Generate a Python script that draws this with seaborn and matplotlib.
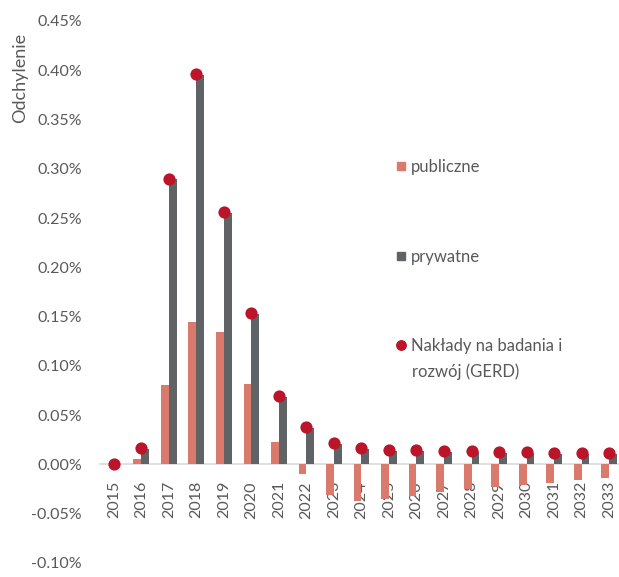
import numpy as np
import pandas as pd
import matplotlib
matplotlib.use("Agg")
import matplotlib.pyplot as plt
from matplotlib.lines import Line2D
from matplotlib.legend import Legend
import seaborn as sns

years = [str(y) for y in range(2015, 2034)]
public = [0.000, 0.006, 0.081, 0.145, 0.134, 0.082, 0.023, -0.010, -0.031, -0.037,
          -0.035, -0.032, -0.028, -0.025, -0.023, -0.021, -0.019, -0.016, -0.014]
private = [0.000, 0.016, 0.290, 0.395, 0.255, 0.153, 0.068, 0.037, 0.021, 0.016,
           0.014, 0.014, 0.013, 0.013, 0.012, 0.012, 0.011, 0.011, 0.011]
gerd = [0.000, 0.017, 0.290, 0.396, 0.256, 0.154, 0.069, 0.038, 0.022, 0.017,
        0.015, 0.015, 0.014, 0.014, 0.013, 0.013, 0.012, 0.012, 0.012]
series_names = ["publiczne", "prywatne"]
gerd_label = ["Nakłady na badania i", "rozwój (GERD)"]
y_ticks = [-0.10, -0.05, 0.00, 0.05, 0.10, 0.15, 0.20, 0.25, 0.30, 0.35, 0.40, 0.45]
y_label = "Odchylenie"

c_pub = "#D97A6C"
c_priv = "#5F6366"
c_dot = "#BC1428"
c_text = "#595959"

sns.set_theme(style="white")
plt.rcParams["font.family"] = ["Lato", "DejaVu Sans"]

df = pd.DataFrame({
    "year": years * 2,
    "kind": [series_names[0]] * len(years) + [series_names[1]] * len(years),
    "value": public + private,
})

fig = plt.figure(figsize=(6.19, 5.77), dpi=100)
ax = fig.add_axes([100 / 619, 1 - 563 / 577, 1 - 100 / 619, (563 - 21) / 577])

sns.barplot(data=df, x="year", y="value", hue="kind", hue_order=series_names,
            palette=[c_pub, c_priv], width=0.57, saturation=1, dodge=True,
            legend=False, ax=ax, linewidth=0)
sns.stripplot(x=years, y=gerd, jitter=False, color=c_dot, size=8.8, linewidth=0,
              ax=ax, zorder=5)

ax.set_ylim(-0.10, 0.45)
ax.set_xlim(-0.5, 18.36)
ax.set_yticks(y_ticks)
ax.set_yticklabels([f"{v:.2f}%" for v in y_ticks])
ax.set_xlabel("")
ax.set_ylabel("")

for s in ["top", "right", "left"]:
    ax.spines[s].set_visible(False)
ax.spines["bottom"].set_position(("data", 0))
ax.spines["bottom"].set_color("#D9D9D9")
ax.spines["bottom"].set_linewidth(1.2)
ax.spines["bottom"].set_zorder(0)

ax.tick_params(axis="y", length=0, pad=13, labelsize=11.5, labelcolor=c_text)
ax.tick_params(axis="x", length=0, pad=12, labelsize=11.5, labelcolor=c_text)
for lab in ax.get_xticklabels():
    lab.set_rotation(90)
    lab.set_va("top")
    lab.set_ha("center")

fig.text(20 / 619, 1 - 78 / 577, y_label, rotation=90, ha="center", va="center",
         fontsize=13, color=c_text)

handles = [
    Line2D([], [], marker="s", linestyle="none", markersize=6, color=c_pub),
    Line2D([], [], marker="s", linestyle="none", markersize=6, color=c_priv),
    Line2D([], [], marker="o", linestyle="none", markersize=6.8, color=c_dot),
]
labels = [series_names[0], series_names[1], gerd_label[0]]
ys = [167, 257, 346]
for h, l, yy in zip(handles, labels, ys):
    leg = Legend(ax, [h], [l], loc="center left",
                 bbox_to_anchor=(396 / 619, 1 - yy / 577),
                 bbox_transform=fig.transFigure, frameon=False,
                 borderpad=0, borderaxespad=0, handlelength=0.6,
                 handletextpad=0.3, fontsize=12, labelcolor=c_text)
    ax.add_artist(leg)
fig.text(412 / 619, 1 - 372 / 577, gerd_label[1], ha="left", va="center",
         fontsize=12, color=c_text)

fig.savefig("out.png", dpi=100)
